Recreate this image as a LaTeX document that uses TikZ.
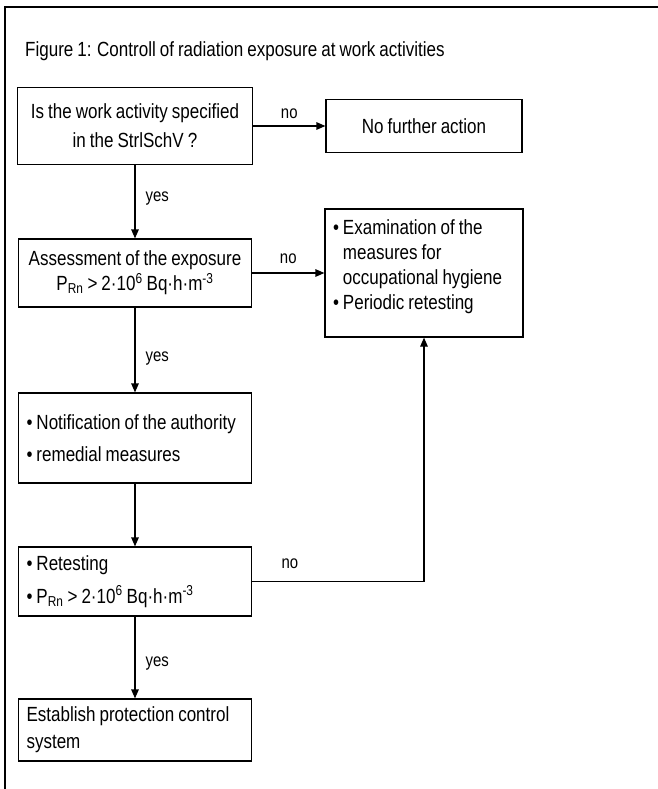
\documentclass[tikz,border=0pt]{standalone}
\usepackage{fontspec}
\setmainfont{Liberation Sans}[FakeStretch=0.83,WordSpace=0.85]
\usetikzlibrary{arrows.meta}
\hyphenpenalty=10000
\exhyphenpenalty=10000

\tikzset{
  box/.style={draw, line width=1.2pt, inner sep=0pt, align=center},
  lbox/.style={draw, line width=1.2pt, inner xsep=8pt, inner ysep=0pt, align=flush left},
  arr/.style={line width=1.2pt, -{Triangle[length=9pt,width=7.5pt]}},
  lab/.style={font=\fontsize{18}{20}\selectfont, inner sep=0pt}
}

\begin{document}
\begin{tikzpicture}[x=1pt,y=-1pt,font=\fontsize{20.5}{25}\selectfont]
      \useasboundingbox (0,0) rectangle (657,789);
      \draw[line width=1.6pt] (5,800) -- (5,7) -- (670,7);

      \node[anchor=base west, inner sep=0pt](title) at (25,57){Figure 1: Controll of radiation exposure at work activities};

      \node[box, minimum width=235pt, minimum height=77pt, font=\fontsize{20.5}{29}\selectfont](q1) at (135,126){Is the work activity specified\\in the StrlSchV ?};
      \node[box, minimum width=196pt, minimum height=53pt](nfa) at (424,126){No further action};
      \node[box, minimum width=233pt, minimum height=68pt](assess) at (135,273){Assessment of the exposure\\P\textsubscript{Rn} > 2·10\textsuperscript{6} Bq·h·m\textsuperscript{-3}};
      \node[lbox, text width=182pt, minimum height=128pt](exam) at (424,273){• Examination of the\\\hphantom{• }measures for\\\hphantom{• }occupational hygiene\\• Periodic retesting\rule[-16pt]{0pt}{16pt}};
      \node[lbox, text width=217pt, minimum height=90pt, font=\fontsize{20.5}{32}\selectfont](notif) at (135,438){• Notification of the authority\\• remedial measures};
      \node[lbox, text width=217pt, minimum height=69pt, font=\fontsize{20.5}{33}\selectfont](retest) at (135,581.5){• Retesting\\• P\textsubscript{Rn} > 2·10\textsuperscript{6} Bq·h·m\textsuperscript{-3}};
      \node[lbox, text width=217pt, minimum height=62pt, font=\fontsize{20.5}{27}\selectfont](est) at (135,730){Establish protection control\\system};
      %
      \draw[arr] (q1) -- (nfa) node[lab, midway, above=7pt]{no};
      \draw[arr] (q1) -- (assess) node[lab, pos=0.45, right=10pt]{yes};
      \draw[arr] (assess) -- (exam) node[lab, midway, above=9pt]{no};
      \draw[arr] (assess) -- (notif) node[lab, pos=0.6, right=10pt]{yes};
      \draw[arr] (notif) -- (retest);
      \draw[arr] (retest) -| (exam) node[lab, pos=0.11, above=12pt]{no};
      \draw[arr] (retest) -- (est) node[lab, pos=0.57, right=10pt]{yes};

    \end{tikzpicture}
\end{document}
